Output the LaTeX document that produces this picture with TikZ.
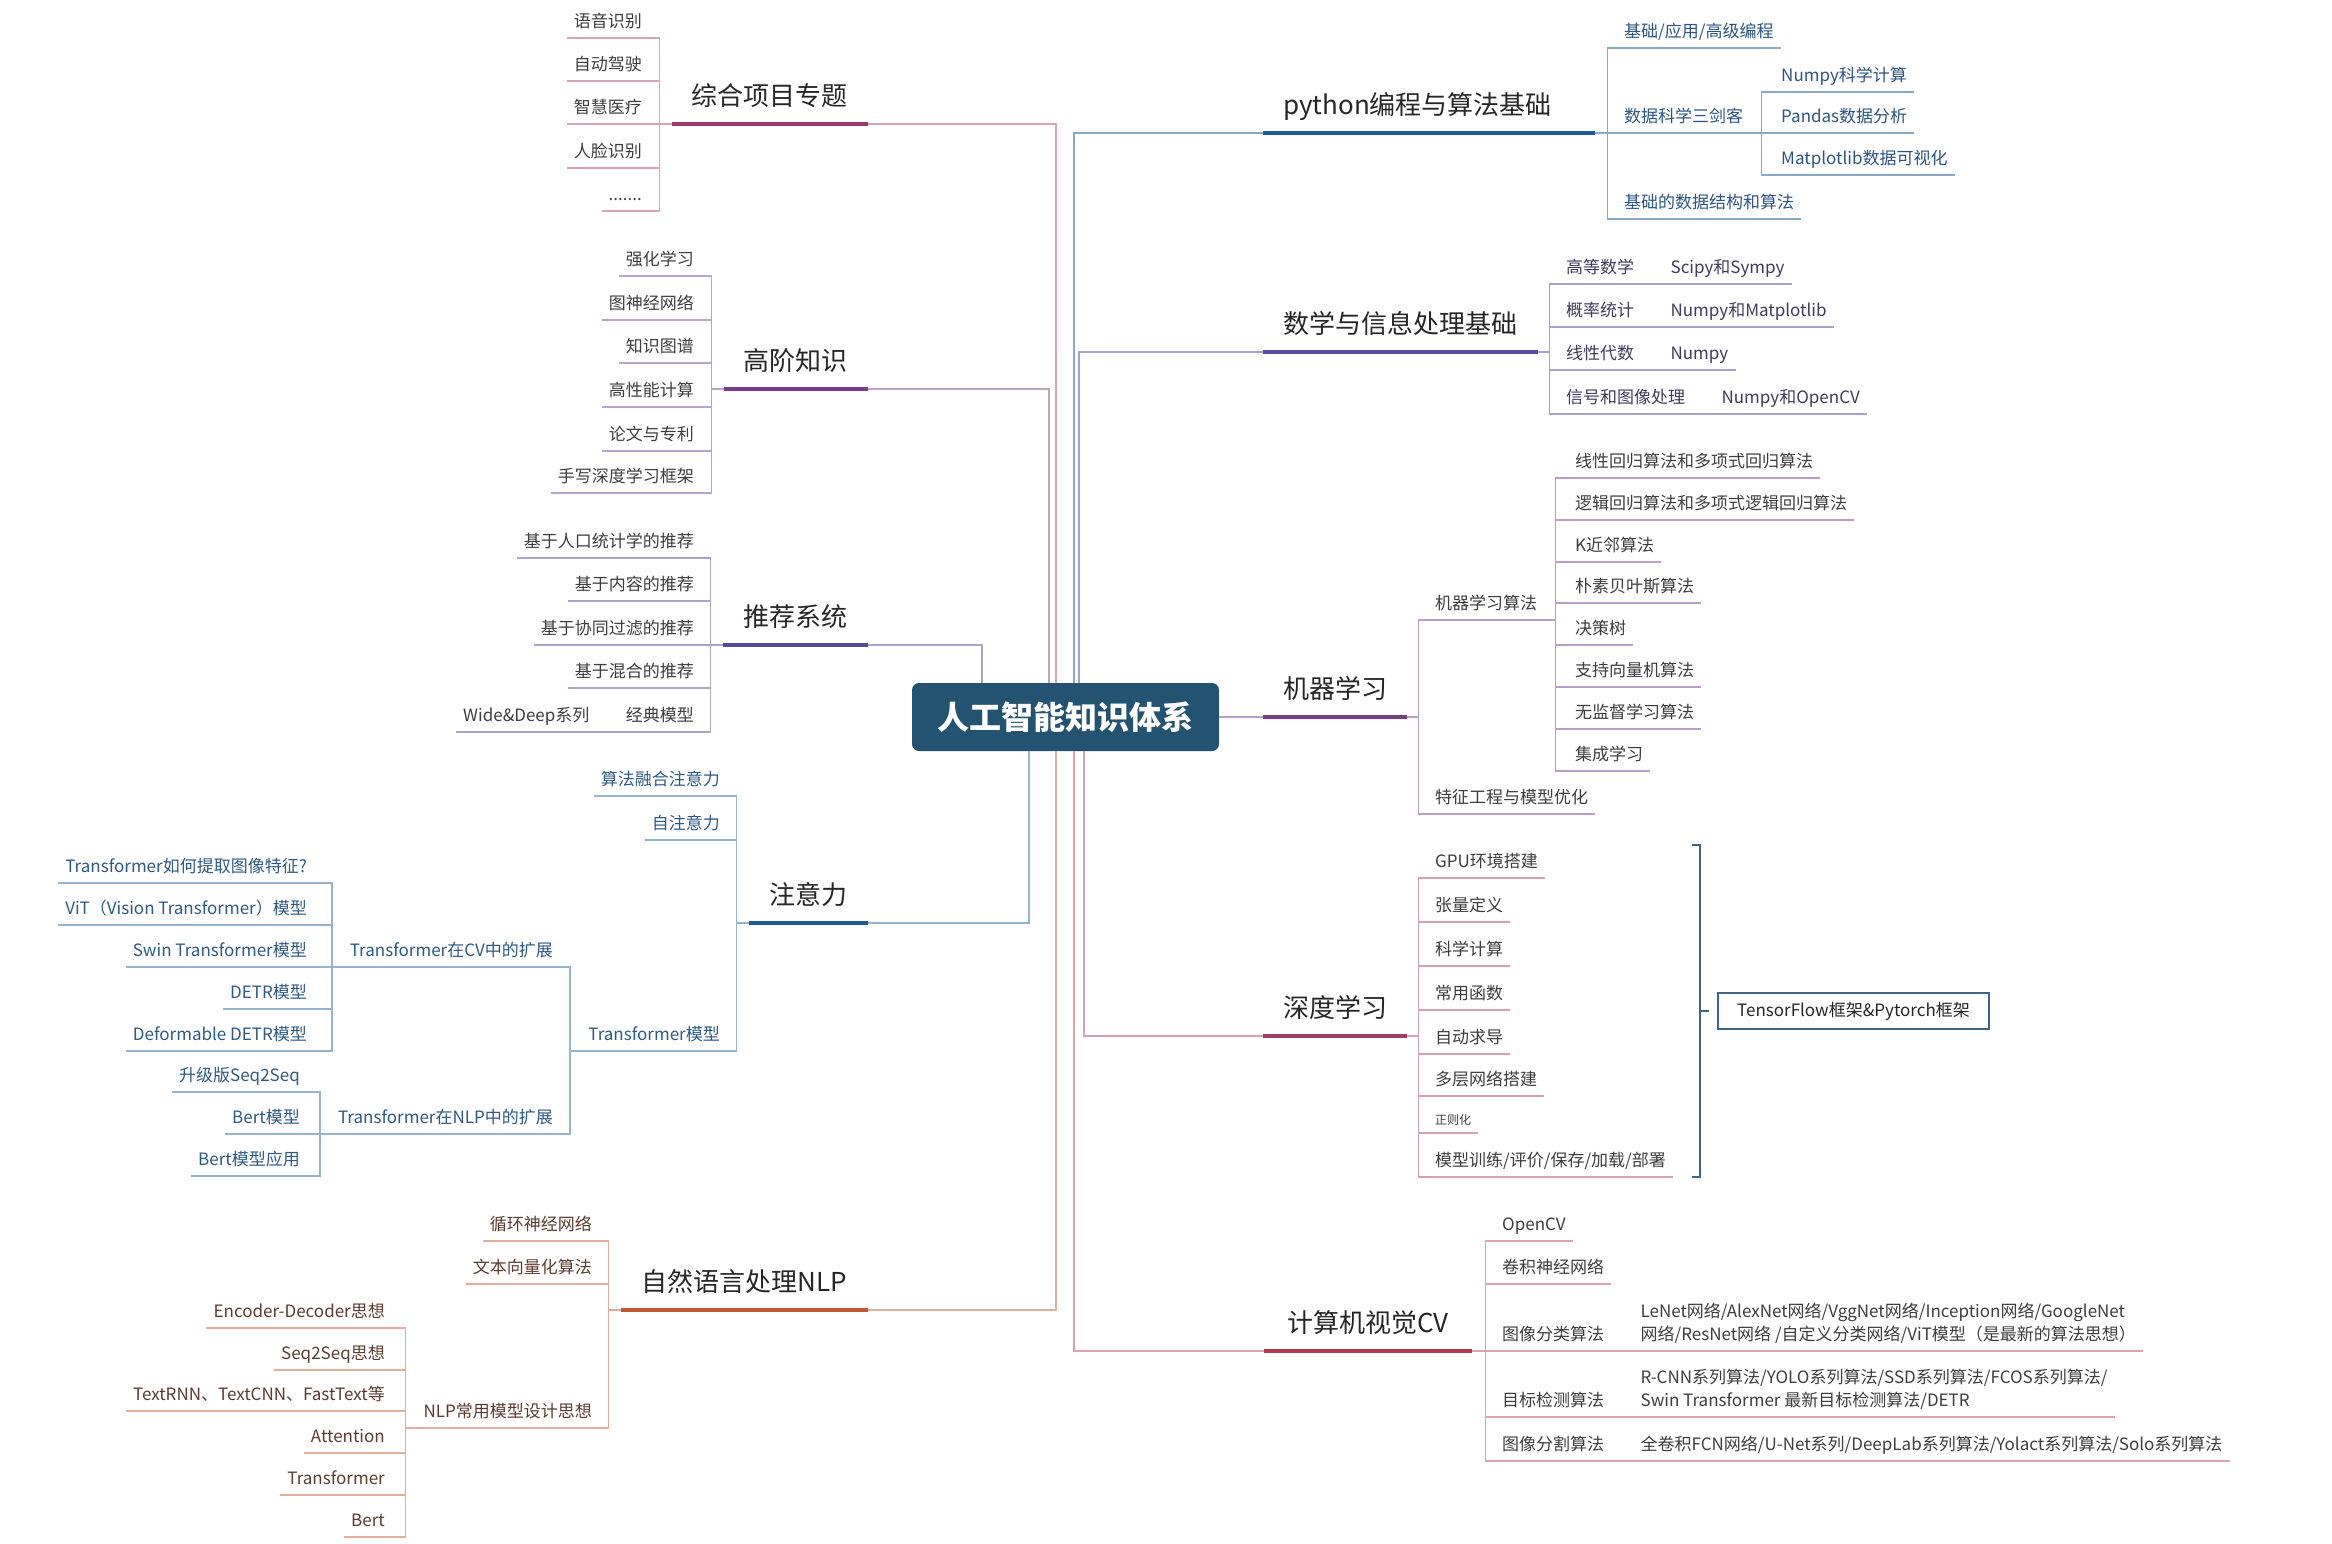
\documentclass[tikz,border=0pt]{standalone}
\usepackage{fontspec}
\setmainfont{Noto Sans CJK SC}
\usetikzlibrary{positioning}
\definecolor{aiblue}{HTML}{245372}
\definecolor{txt}{HTML}{3D3D3D}
\definecolor{zhd}{HTML}{A0376A}\definecolor{zhl}{HTML}{D9A2BA}
\definecolor{gjd}{HTML}{7A3B8B}\definecolor{gjl}{HTML}{BDA3CB}
\definecolor{tjd}{HTML}{56489A}\definecolor{tjl}{HTML}{ABA5CE}
\definecolor{zyd}{HTML}{1E5A8D}\definecolor{zyl}{HTML}{93B3D0}\definecolor{zyt}{HTML}{2B5A86}
\definecolor{nld}{HTML}{C65634}\definecolor{nll}{HTML}{E3AD99}\definecolor{nlt}{HTML}{5B3B2F}
\definecolor{pyd}{HTML}{1F5C95}\definecolor{pyl}{HTML}{88AACA}\definecolor{pyt}{HTML}{2A5585}
\definecolor{sxd}{HTML}{5C4B9C}\definecolor{sxl}{HTML}{A7A0CC}\definecolor{sxt}{HTML}{3F3B5E}
\definecolor{jqd}{HTML}{7C3C86}\definecolor{jql}{HTML}{BC9DC6}
\definecolor{sdd}{HTML}{A13C64}\definecolor{sdl}{HTML}{D6A0B4}
\definecolor{cvd}{HTML}{B53A4E}\definecolor{cvl}{HTML}{DDA2AB}
\definecolor{tfc}{HTML}{3C6784}

\begin{document}
\begin{tikzpicture}[x=1pt,y=-1pt,
	ai/.style={fill=aiblue, text=white, font=\fontsize{32}{36}\selectfont\bfseries, rounded corners=7pt, minimum width=307pt, minimum height=68pt, inner sep=0pt},
	title/.style={font=\fontsize{26}{30}\selectfont, text=black!85, inner xsep=0pt, inner ysep=18pt, text depth=0pt,
		append after command={(\tikzlastnode.south west) edge[draw=#1, line width=4.5pt] (\tikzlastnode.south east)}},
	titlel/.style={title=#1, anchor=south east},
	titler/.style={title=#1, anchor=south west},
	leaf/.style={font=\fontsize{17}{23}\selectfont, text=#1, inner xsep=7pt, inner ysep=10pt, text depth=0pt, align=left},
	leafl/.style={leaf=#1, anchor=south east},
	leafr/.style={leaf=#1, anchor=south west},
	conn/.style={draw=#1, line width=1.6pt}]
	\useasboundingbox (0,0) rectangle (2332,1544);

	\node[ai] (ai) at (1065.5,717) {人工智能知识体系};

	\node[titlel=zhd, minimum width=196pt] (zh) at (868,124) {综合项目专题};
	\node[titlel=gjd, minimum width=144pt] (gj) at (868,389) {高阶知识};
	\node[titlel=tjd, minimum width=145pt] (tj) at (868,645) {推荐系统};
	\node[titlel=zyd, minimum width=119pt] (zy) at (868,923) {注意力};
	\node[titlel=nld, minimum width=247pt] (nlp) at (868,1310) {自然语言处理NLP};
	\node[titler=pyd, inner xsep=20pt, text width=292pt, align=left] (py) at (1263,133) {python编程与算法基础};
	\node[titler=sxd, minimum width=275pt] (sx) at (1263,352) {数学与信息处理基础};
	\node[titler=jqd, minimum width=144pt] (jq) at (1263,717) {机器学习};
	\node[titler=sdd, minimum width=144pt] (sd) at (1263,1036) {深度学习};
	\node[titler=cvd, minimum width=208pt] (cv) at (1264,1351) {计算机视觉CV};

	\draw[conn=zhl] ([xshift=-9.5pt]ai.north) |- (zh.south east);
	\draw[conn=gjl] ([xshift=-16.5pt]ai.north) |- (gj.south east);
	\draw[conn=tjl] ([xshift=-83.5pt]ai.north) |- (tj.south east);
	\draw[conn=pyl] ([xshift=8.5pt]ai.north) |- (py.south west);
	\draw[conn=sxl] ([xshift=13.5pt]ai.north) |- (sx.south west);
	\draw[conn=zyl] ([xshift=-36.5pt]ai.south) |- (zy.south east);
	\draw[conn=nll] ([xshift=-9.5pt]ai.south) |- (nlp.south east);
	\draw[conn=cvl] ([xshift=8.5pt]ai.south) |- (cv.south west);
	\draw[conn=sdl] ([xshift=18.5pt]ai.south) |- (sd.south west);
	\draw[conn=jql] (ai.east) -- (jq.south west);

	\node[leafl=txt] (zh1) at (649,38) {语音识别};
	\node[leafl=txt] (zh2) at (649,81) {自动驾驶};
	\node[leafl=txt] (zh3) at (649,124) {智慧医疗};
	\node[leafl=txt] (zh4) at (649,168) {人脸识别};
	\node[leafl=txt] (zh5) at (649,211) {.......};
	\foreach \i in {1,...,5}
		\draw[conn=zhl] (zh.south west) -- ++(-12,0) |- (zh\i.south east) -- (zh\i.south west);

	\node[leafl=txt] (gj1) at (701,276) {强化学习};
	\node[leafl=txt] (gj2) at (701,320) {图神经网络};
	\node[leafl=txt] (gj3) at (701,363) {知识图谱};
	\node[leafl=txt] (gj4) at (701,407) {高性能计算};
	\node[leafl=txt] (gj5) at (701,451) {论文与专利};
	\node[leafl=txt] (gj6) at (701,493) {手写深度学习框架};
	\foreach \i in {1,...,6}
		\draw[conn=gjl] (gj.south west) -- ++(-12,0) |- (gj\i.south east) -- (gj\i.south west);

	\node[leafl=txt] (tj1) at (701,558) {基于人口统计学的推荐};
	\node[leafl=txt] (tj2) at (701,601) {基于内容的推荐};
	\node[leafl=txt] (tj3) at (701,645) {基于协同过滤的推荐};
	\node[leafl=txt] (tj4) at (701,688) {基于混合的推荐};
	\node[leafl=txt] (tj5) at (701,732) {经典模型};
	\node[leafl=txt, left=22pt of tj5.south west, anchor=south east] (tj5a) {Wide\&Deep系列};
	\foreach \i in {1,...,5}
		\draw[conn=tjl] (tj.south west) -- ++(-12,0) |- (tj\i.south east) -- (tj\i.south west);
	\draw[conn=tjl] (tj5.south west) -- (tj5a.south west);

	\node[leafl=zyt] (zy1) at (727,796) {算法融合注意力};
	\node[leafl=zyt] (zy2) at (727,840) {自注意力};
	\node[leafl=zyt] (zy3) at (727,1051) {Transformer模型};
	\foreach \i in {1,...,3}
		\draw[conn=zyl] (zy.south west) -- ++(-12,0) |- (zy\i.south east) -- (zy\i.south west);
	\node[leafl=zyt] (tcv) at (560,967) {Transformer在CV中的扩展};
	\node[leafl=zyt] (tnl) at (560,1134) {Transformer在NLP中的扩展};
	\foreach \n in {tcv,tnl}
		\draw[conn=zyl] (zy3.south west) -- ++(-11,0) |- (\n.south east) -- (\n.south west);
	\node[leafl=zyt] (v1) at (314,883) {Transformer如何提取图像特征?};
	\node[leafl=zyt] (v2) at (314,925) {ViT（Vision Transformer）模型};
	\node[leafl=zyt] (v3) at (314,967) {Swin Transformer模型};
	\node[leafl=zyt] (v4) at (314,1009) {DETR模型};
	\node[leafl=zyt] (v5) at (314,1051) {Deformable DETR模型};
	\foreach \i in {1,...,5}
		\draw[conn=zyl] (tcv.south west) -- ++(-11,0) |- (v\i.south east) -- (v\i.south west);
	\node[leafl=zyt] (w1) at (307,1092) {升级版Seq2Seq};
	\node[leafl=zyt] (w2) at (307,1134) {Bert模型};
	\node[leafl=zyt] (w3) at (307,1176) {Bert模型应用};
	\foreach \i in {1,...,3}
		\draw[conn=zyl] (tnl.south west) -- ++(-11,0) |- (w\i.south east) -- (w\i.south west);

	\node[leafl=nlt] (nl1) at (599,1241) {循环神经网络};
	\node[leafl=nlt] (nl2) at (599,1284) {文本向量化算法};
	\node[leafl=nlt] (nl3) at (599,1428) {NLP常用模型设计思想};
	\foreach \i in {1,...,3}
		\draw[conn=nll] (nlp.south west) -- ++(-12,0) |- (nl\i.south east) -- (nl\i.south west);
	\node[leafl=nlt] (nd1) at (392,1328) {Encoder-Decoder思想};
	\node[leafl=nlt] (nd2) at (392,1370) {Seq2Seq思想};
	\node[leafl=nlt] (nd3) at (392,1411) {TextRNN、TextCNN、FastText等};
	\node[leafl=nlt] (nd4) at (392,1453) {Attention};
	\node[leafl=nlt] (nd5) at (392,1495) {Transformer};
	\node[leafl=nlt] (nd6) at (392,1537) {Bert};
	\foreach \i in {1,...,6}
		\draw[conn=nll] (nl3.south west) -- ++(-11,0) |- (nd\i.south east) -- (nd\i.south west);

	\node[leafr=pyt] (p1) at (1617,48) {基础/应用/高级编程};
	\node[leafr=pyt] (p2) at (1617,133) {数据科学三剑客};
	\node[leafr=pyt] (p3) at (1617,219) {基础的数据结构和算法};
	\foreach \i in {1,...,3}
		\draw[conn=pyl] (py.south east) -- ++(12,0) |- (p\i.south west) -- (p\i.south east);
	\node[leafr=pyt] (p21) at (1774,92) {Numpy科学计算};
	\node[leafr=pyt] (p22) at (1774,133) {Pandas数据分析};
	\node[leafr=pyt] (p23) at (1774,175) {Matplotlib数据可视化};
	\foreach \i in {1,...,3}
		\draw[conn=pyl] (p2.south east) -- ++(11,0) |- (p2\i.south west) -- (p2\i.south east);

	\node[leafr=sxt] (s1) at (1559,284) {高等数学};
	\node[leafr=sxt] (s2) at (1559,327) {概率统计};
	\node[leafr=sxt] (s3) at (1559,370) {线性代数};
	\node[leafr=sxt] (s4) at (1559,414) {信号和图像处理};
	\node[leafr=sxt, right=22pt of s1.south east, anchor=south west] (s1a) {Scipy和Sympy};
	\node[leafr=sxt, right=22pt of s2.south east, anchor=south west] (s2a) {Numpy和Matplotlib};
	\node[leafr=sxt, right=22pt of s3.south east, anchor=south west] (s3a) {Numpy};
	\node[leafr=sxt, right=22pt of s4.south east, anchor=south west] (s4a) {Numpy和OpenCV};
	\foreach \i in {1,...,4}
		\draw[conn=sxl] (sx.south east) -- ++(11,0) |- (s\i.south west) -- (s\i a.south east);

	\node[leafr=txt] (m1) at (1428,620) {机器学习算法};
	\node[leafr=txt] (m2) at (1428,814) {特征工程与模型优化};
	\foreach \i in {1,2}
		\draw[conn=jql] (jq.south east) -- ++(11,0) |- (m\i.south west) -- (m\i.south east);
	\node[leafr=txt] (a1) at (1568,478) {线性回归算法和多项式回归算法};
	\node[leafr=txt] (a2) at (1568,520) {逻辑回归算法和多项式逻辑回归算法};
	\node[leafr=txt] (a3) at (1568,562) {K近邻算法};
	\node[leafr=txt] (a4) at (1568,603) {朴素贝叶斯算法};
	\node[leafr=txt] (a5) at (1568,645) {决策树};
	\node[leafr=txt] (a6) at (1568,687) {支持向量机算法};
	\node[leafr=txt] (a7) at (1568,729) {无监督学习算法};
	\node[leafr=txt] (a8) at (1568,771) {集成学习};
	\foreach \i in {1,...,8}
		\draw[conn=jql] (m1.south east) -- ++(11,0) |- (a\i.south west) -- (a\i.south east);

	\node[leafr=txt] (dl1) at (1428,878) {GPU环境搭建};
	\node[leafr=txt] (dl2) at (1428,922) {张量定义};
	\node[leafr=txt] (dl3) at (1428,966) {科学计算};
	\node[leafr=txt] (dl4) at (1428,1010) {常用函数};
	\node[leafr=txt] (dl5) at (1428,1054) {自动求导};
	\node[leafr=txt] (dl6) at (1428,1096) {多层网络搭建};
	\node[leafr=txt, font=\fontsize{12}{14}\selectfont, inner ysep=8pt] (dl7) at (1428,1133) {正则化};
	\node[leafr=txt] (dl8) at (1428,1177) {模型训练/评价/保存/加载/部署};
	\foreach \i in {1,...,8}
		\draw[conn=sdl] (sd.south east) -- ++(11,0) |- (dl\i.south west) -- (dl\i.south east);

	\node[draw=tfc, line width=1.8pt, font=\fontsize{17}{20}\selectfont, text=black!85, minimum width=271pt, minimum height=36pt] (tf) at (1853.5,1011) {TensorFlow框架\&Pytorch框架};
	\coordinate (brtop) at (1700,845);
	\coordinate (brbot) at (1700,1177);
	\draw[tfc, line width=1.8pt] ([xshift=-8pt]brtop) -- (brtop) -- (brbot) -- ([xshift=-8pt]brbot);
	\draw[tfc, line width=1.8pt] (brtop |- tf.west) -- ++(9,0);

	\node[leafr=txt] (c1) at (1495,1241) {OpenCV};
	\node[leafr=txt] (c2) at (1495,1284) {卷积神经网络};
	\node[leafr=txt] (c3) at (1495,1351) {图像分类算法};
	\node[leafr=txt] (c4) at (1495,1417) {目标检测算法};
	\node[leafr=txt] (c5) at (1495,1461) {图像分割算法};
	\node[leafr=txt, right=22pt of c3.south east, anchor=south west] (c3a) {LeNet网络/AlexNet网络/VggNet网络/Inception网络/GoogleNet\\网络/ResNet网络 /自定义分类网络/ViT模型（是最新的算法思想）};
	\node[leafr=txt, right=22pt of c4.south east, anchor=south west] (c4a) {R-CNN系列算法/YOLO系列算法/SSD系列算法/FCOS系列算法/\\Swin Transformer 最新目标检测算法/DETR};
	\node[leafr=txt, right=22pt of c5.south east, anchor=south west] (c5a) {全卷积FCN网络/U-Net系列/DeepLab系列算法/Yolact系列算法/Solo系列算法};
	\foreach \a/\b in {c1/c1,c2/c2,c3/c3a,c4/c4a,c5/c5a}
		\draw[conn=cvl] (cv.south east) -- ++(13,0) |- (\a.south west) -- (\b.south east);
\end{tikzpicture}
\end{document}
